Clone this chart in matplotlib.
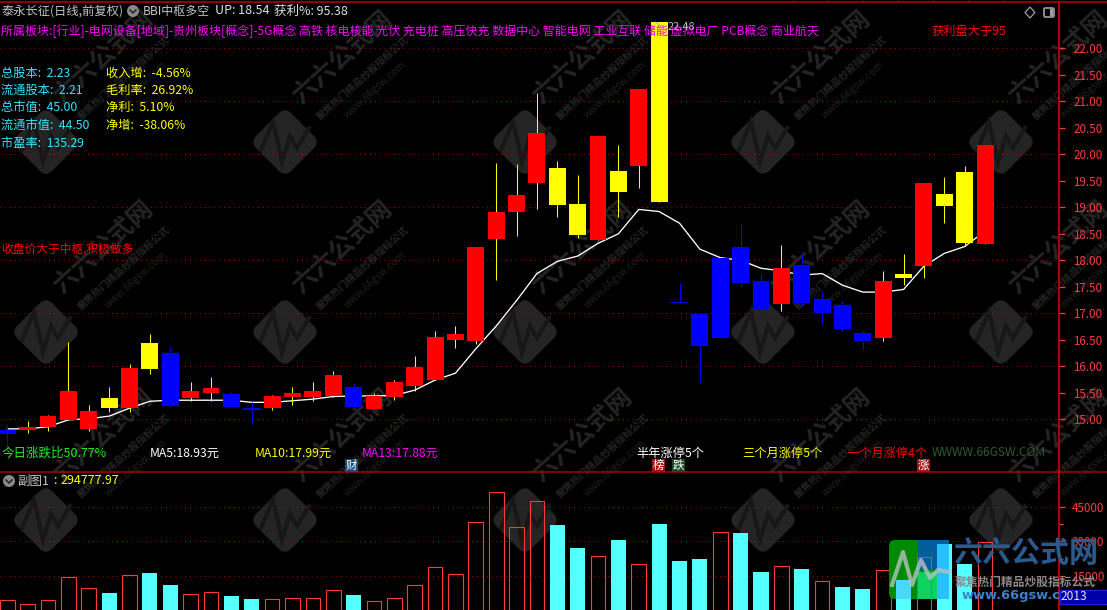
import matplotlib
matplotlib.use("Agg")
import matplotlib.pyplot as plt
from matplotlib.patches import FancyBboxPatch, Rectangle, Circle, Polygon
from matplotlib.transforms import Affine2D
from matplotlib.ticker import FixedLocator, FuncFormatter

plt.rcParams['font.family'] = ['Noto Sans CJK SC', 'DejaVu Sans']

# ---------- data ----------
kinds = ['b','r','r','r','r','y','r','y','b','r','r','b','b','r','r','r','r','b','r','r',
         'r','r','r','r','r','r','r','y','y','r','y','r','y','b','b','b','b','b','r','b',
         'b','b','b','r','y','r','y','y','r']
body_top = [14.80,14.86,15.06,15.53,15.16,15.40,15.97,16.44,16.25,15.53,15.59,15.48,15.21,15.44,15.50,15.53,15.84,15.61,15.44,15.70,
            15.99,16.55,16.61,18.25,18.91,19.23,20.40,19.74,19.06,20.34,19.68,21.23,22.49,17.21,16.99,18.04,18.25,17.61,17.85,17.91,
            17.27,17.16,16.63,17.61,17.74,19.46,19.25,19.67,20.17]
body_bot = [14.73,14.80,14.86,14.99,14.81,15.21,15.21,15.95,15.25,15.40,15.50,15.23,15.18,15.21,15.42,15.42,15.44,15.23,15.19,15.42,
            15.63,15.74,16.50,16.48,18.40,18.91,19.46,19.04,18.48,18.38,19.29,19.78,19.10,17.19,16.38,16.53,17.57,17.08,17.17,17.19,
            17.00,16.70,16.48,16.53,17.67,17.89,19.02,18.33,18.31]
high = [14.91,14.97,15.09,16.46,15.27,15.61,16.04,16.61,16.36,15.70,15.80,15.52,15.33,15.46,15.61,15.70,15.91,15.69,15.50,15.74,
        16.19,16.67,16.76,18.25,19.83,19.81,21.16,19.87,19.61,20.34,20.18,21.23,22.49,17.57,16.99,18.04,18.70,17.74,18.29,18.12,
        17.40,17.23,16.66,17.80,18.12,19.46,19.57,19.78,20.17]
low = [14.44,14.75,14.78,14.99,14.78,15.14,15.14,15.86,15.23,15.35,15.35,15.23,14.91,15.18,15.27,15.35,15.42,15.23,15.19,15.36,
       15.53,15.74,16.35,16.42,17.63,18.46,18.97,18.82,18.42,18.38,18.82,19.36,19.10,17.19,15.68,16.53,17.50,17.02,17.04,17.14,
       16.82,16.66,16.31,16.48,17.53,17.67,18.70,18.27,18.31]
mid_line = [14.82,14.82,14.86,14.99,15.01,15.06,15.21,15.34,15.36,15.36,15.36,15.36,15.32,15.32,15.35,15.38,15.43,15.44,15.44,15.45,
            15.55,15.74,15.87,16.33,16.76,17.24,17.75,17.98,18.08,18.32,18.50,18.96,18.92,18.70,18.21,18.05,18.00,17.85,17.80,17.72,
            17.75,17.53,17.40,17.40,17.45,17.89,18.13,18.26,18.55]
volume = [4230,2480,4230,14290,9480,7440,15160,16180,10940,6850,7730,6120,4810,4670,5100,5100,8600,6560,3790,5100,
          10790,18660,15600,38350,51470,36160,47530,37180,27120,23470,30620,19970,37620,21430,22310,33970,33680,16620,19100,17930,
          12540,10060,9190,17350,13120,23040,28870,19970,29600]
hollow = [1,1,1,1,1,0,1,0,0,1,1,0,0,1,1,1,1,0,1,1,
          1,1,1,1,1,1,1,0,0,1,0,1,0,0,0,1,0,0,1,0,
          1,0,0,1,0,1,0,0,1]
price_ticks = [15.0,15.5,16.0,16.5,17.0,17.5,18.0,18.5,19.0,19.5,20.0,20.5,21.0,21.5,22.0]
price_grid = [15,16,17,18,19,20,21,22]
vol_ticks = [15000,30000,45000]

sector_text = "所属板块:[行业]-电网设备[地域]-贵州板块[概念]-5G概念 高铁 核电核能 光伏 充电桩 高压快充 数据中心 智能电网 工业互联 储能 虚拟电厂 PCB概念 商业航天"
cyan_labels = ["总股本:  2.23","流通股本:  2.21","总市值:  45.00","流通市值:  44.50","市盈率:  135.29"]
yellow_labels = ["收入增:  -4.56%","毛利率:  26.92%","净利:  5.10%","净增:  -38.06%"]

RED, BLUE, YEL = '#ff0000', '#0000ff', '#ffff00'
GRID = '#b00000'; AXC = '#b00000'; TICKC = '#ff3c3c'; CYAN = '#54ffff'; MAG = '#ff00ff'
W, H = 1107, 610
X_AXIS, Y_SPLIT, Y_TOP = 1059, 472, 1.5
FP = 0.72
col = {'r': RED, 'y': YEL, 'b': BLUE}
wick = {'r': YEL, 'y': YEL, 'b': BLUE}
DOTS = (0,(1,4))

fig = plt.figure(figsize=(W/100, H/100), dpi=100, facecolor='black')

# ---------- watermark layer ----------
bg = fig.add_axes([0,0,1,1], zorder=0); bg.set_xlim(0,W); bg.set_ylim(H,0); bg.axis('off')
for cx in (46,285,525,763,1001):
    for cy in (142,332,520):
        t = Affine2D().rotate_deg(45).translate(cx,cy) + bg.transData
        bg.add_patch(FancyBboxPatch((-22,-22),44,44,boxstyle="round,pad=0,rounding_size=6",mutation_scale=1,
                                    fc='#242424',ec='#242424',lw=4,transform=t,clip_on=False))
        bg.plot([cx+v for v in (-24,-12,-3,5,12,24)],[cy+v for v in (8,-20,20,-6,6,-14)],color='#171717',lw=3,solid_joinstyle='miter')
        bg.text(cx+57,cy-85,"六六公式网",color='#242424',fontsize=25*FP,fontweight='bold',rotation=42,ha='center',va='center',rotation_mode='anchor')
        bg.text(cx+78,cy-64,"聚焦热门精品炒股指标公式",color='#242424',fontsize=10*FP,fontweight='bold',rotation=42,ha='center',va='center',rotation_mode='anchor')
        bg.text(cx+90,cy-52,"www.66gsw.com",color='#202020',fontsize=10*FP,rotation=42,ha='center',va='center',rotation_mode='anchor')

# ---------- axes ----------
def px_axes(x0,x1,y0,y1,z=1):
    return fig.add_axes([x0/W,1-y1/H,(x1-x0)/W,(y1-y0)/H],zorder=z,facecolor='none')

x_of = list(range(len(kinds)))
xl = (-7.3/20.37,(X_AXIS-7.3)/20.37)

ax = px_axes(0,X_AXIS,Y_TOP,Y_SPLIT)
ax.set_xlim(*xl)
ax.set_ylim(15-(Y_SPLIT-419.3)/53,15+(419.3-Y_TOP)/53)
for v in price_grid:
    ax.axhline(v,color=GRID,lw=0.7,ls=DOTS,zorder=1)
ax.plot(x_of,mid_line,color='white',lw=0.95,zorder=2)
ax.vlines(x_of,low,high,colors=[wick[k] for k in kinds],lw=0.75,zorder=3)
ax.bar(x_of,[t-b for t,b in zip(body_top,body_bot)],bottom=body_bot,width=0.83,
       color=[col[k] for k in kinds],lw=0,zorder=4,antialiased=False)

vx = px_axes(0,X_AXIS,Y_SPLIT,H)
vx.set_xlim(*xl)
vx.set_ylim(0,(H-Y_SPLIT)*437.3)
for v in vol_ticks:
    vx.axhline(v,color=GRID,lw=0.7,ls=DOTS,zorder=1)
for i,(v,h) in enumerate(zip(volume,hollow)):
    if h:
        vx.bar(i,v,width=0.72,fill=False,edgecolor='#ff3838',lw=0.8,zorder=3)
    else:
        vx.bar(i,v,width=0.74,color=CYAN,lw=0,zorder=3,antialiased=False)

for a in (ax,vx):
    for s in ('left','bottom','top'):
        a.spines[s].set_visible(False)
    a.spines['right'].set_color(AXC); a.spines['right'].set_linewidth(1.5)
    a.set_xticks([])
    a.yaxis.tick_right()

ax.yaxis.set_major_locator(FixedLocator(price_ticks))
ax.yaxis.set_major_formatter(FuncFormatter(lambda v,_: f"{v:.2f}"))
ax.tick_params(axis='y',colors=TICKC,length=4.3,width=0.9,pad=6,labelsize=11.6*FP,labelcolor=TICKC)
vx.yaxis.set_major_locator(FixedLocator(vol_ticks))
vx.yaxis.set_minor_locator(FixedLocator([7500,22500,37500]))
vx.yaxis.set_major_formatter(FuncFormatter(lambda v,_: f"{int(v)}"))
vx.tick_params(axis='y',which='major',colors=TICKC,length=4.3,width=0.9,pad=5,labelsize=11.6*FP,labelcolor=TICKC)
vx.tick_params(axis='y',which='minor',colors=TICKC,length=2.8,width=0.9)

# ---------- text overlay ----------
ov = fig.add_axes([0,0,1,1],zorder=5,facecolor='none'); ov.set_xlim(0,W); ov.set_ylim(H,0); ov.axis('off')
def T(x,y,s,c,px=12.5,**kw):
    kw.setdefault('va','center'); kw.setdefault('ha','left')
    return ov.text(x,y,s,color=c,fontsize=px*FP,**kw)

# panel frame lines run across the whole width
ov.hlines([Y_TOP,Y_SPLIT],0,W,color=AXC,lw=1.1)
ov.vlines([793+35*k for k in range(8)],0,Y_TOP,color=AXC,lw=0.8)

GRAY = '#c4c4c4'
T(2,11,"泰永长征(日线,前复权)",GRAY,12.2)
ov.add_patch(Circle((133,11),6,fc='#8a8a8a',ec='none'))
ov.plot([130,133,136],[10,13,10],color='#222222',lw=1.1)
T(143,11,"BBI中枢多空",GRAY,12)
T(215,11,"UP: 18.54",'#e0e0e0',12.5)
T(274,11,"获利%: 95.38",'#e0e0e0',12.5)
T(1,31,sector_text,MAG,11.97)
T(932,31,"获利盘大于95",RED,12.3)
T(668,27,"22.48",'#b8b8b8',11)
ov.plot([655,664],[22,27],color='#b8b8b8',lw=0.7)

for y,s in zip((73,90.5,107.5,125,143),cyan_labels):
    T(1,y,s,'#2ce8ff',12.2)
for y,s in zip((73,90.5,107.5,125),yellow_labels):
    T(106,y,s,YEL,12.2)
T(1,249,"收盘价大于中枢,积极做多",RED,11.7)

T(2,453,"今日涨跌比50.77%",'#22ee22',12.5)
T(150,453,"MA5:18.93元",'white',12.2)
T(255,453,"MA10:17.99元",YEL,12.2)
T(362,453,"MA13:17.88元",MAG,12.2)
T(636,453,"半年涨停5个",'white',12.2)
T(742,453,"三个月涨停5个",YEL,12.2)
T(847,453,"一个月涨停4个",RED,12.2)
T(932,453,"WWWW.66GSW.COM",'#2f5a2f',12)
for x,s,fc in ((345,"财",'#1a4a80'),(652,"榜",'#a81010'),(672,"跌",'#1f4a28'),(917,"涨",'#a81010')):
    ov.add_patch(Rectangle((x,459),13,13,fc=fc,ec='none',zorder=3))
    ov.text(x+6.5,465.5,s,color='white',fontsize=11.5*FP,ha='center',va='center',zorder=4)

ov.add_patch(Circle((9,481),6,fc='#8a8a8a',ec='none'))
ov.plot([6,9,12],[480,483,480],color='#222222',lw=1.1)
T(17,481,"副图1",GRAY,12.5)
T(53,481,":",YEL,12)
T(60,481,"294777.97",YEL,12.5)

# top-right window icons
ov.add_patch(Polygon([(1030,7),(1035,12.5),(1030,18),(1025,12.5)],closed=True,fc='none',ec='#a0a0a0',lw=0.9))
ov.add_patch(FancyBboxPatch((1044,8),10,9,boxstyle="round,pad=0,rounding_size=1.5",mutation_scale=1,fc='none',ec='#a0a0a0',lw=1.2))
ov.add_patch(Rectangle((1050,9),3,7,fc='#a0a0a0',ec='none'))

# corner logo, with the volume bars showing through it
logo = FancyBboxPatch((889,540),60,59,boxstyle="round,pad=0,rounding_size=6",mutation_scale=1,fc='#008a00',ec='none')
ov.add_patch(logo)
ov.add_patch(Rectangle((918,540),31,30,fc='#005f9a',ec='none'))
ov.add_patch(Rectangle((918,572),31,27,fc='#10d060',ec='none'))
vt = px_axes(0,X_AXIS,Y_SPLIT,H,z=6)
vt.axis('off'); vt.set_xlim(*xl); vt.set_ylim(0,(H-Y_SPLIT)*437.3)
clip_box = Rectangle((889,540),60,59,transform=ov.transData)
for i,c in ((44,'#48d8ff'),(46,'#28c0ff')):
    for b in vt.bar(i,volume[i],width=0.74,color=c,lw=0,antialiased=False):
        b.set_clip_path(clip_box)
for b in vt.bar(45,volume[45],width=0.72,fill=False,edgecolor='#7a6a9a',lw=0.7):
    b.set_clip_path(clip_box)

ov2 = fig.add_axes([0,0,1,1],zorder=7,facecolor='none'); ov2.set_xlim(0,W); ov2.set_ylim(H,0); ov2.axis('off')
ov2.plot([892,903,912,921,930,938,949],[585,552,585,560,578,570,572],color='#b8c0c0',lw=3,alpha=0.8)
def T2(x,y,s,c,px,**kw):
    return ov2.text(x,y,s,color=c,fontsize=px*FP,ha='left',va='center',**kw)
T2(953,553,"六六公式网",'#2a5a90',29,fontweight='bold')
T2(955,582,"聚焦热门精品炒股指标公式",'#8a8a8a',11.7,fontweight='bold')
T2(962,595,"www.66gsw.c",'#3a80d0',13,fontweight='bold',family=['DejaVu Sans'])
ov2.add_patch(Rectangle((1060,590),47,14,fc='#0000a8',ec='#2020e0',lw=0.8))
T2(1061,597,"2013",'#e8e8e8',12)

fig.savefig("out.png",dpi=100,facecolor='black')
